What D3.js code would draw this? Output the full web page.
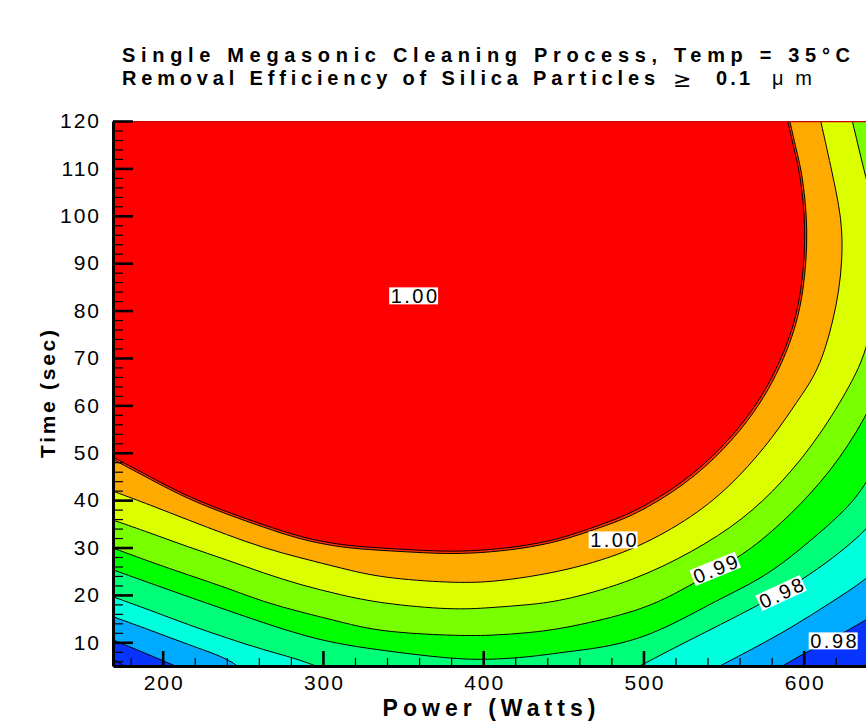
<!DOCTYPE html>
<meta charset="utf-8">
<style>
    body { margin: 0; background: #fff; }
    text { font-family: "Liberation Sans", Arial, sans-serif; fill: #000; }
    .axis text { font-size: 21px; letter-spacing: 2px; }
    .axis .domain { stroke: #000; stroke-width: 3px; }
    .major line { stroke: #000; stroke-width: 2.6px; }
    .minor line { stroke: #000; stroke-width: 1.2px; }
    .minor .domain { display: none; }
    .contour { fill: none; stroke: #000; stroke-width: 1px; }
    .clabel { font-size: 20px; letter-spacing: 2.5px; }
    .title { font-size: 20px; font-weight: bold; }
</style>
<body>
<script src="https://d3js.org/d3.v7.min.js"></script>
<script>
// axes
var powerTicks = [200, 300, 400, 500, 600];
var timeTicks = [10, 20, 30, 40, 50, 60, 70, 80, 90, 100, 110, 120];

// contour lines, [power (W), time (s)], one array per piece
var lineA0 = [[[169, 6.5], [176, 5.0], [179, 4.4]]];
var lineA = [[[169, 10.5], [192, 7.3], [212, 4.4]],
             [[584.7, 4.6], [601, 7.8], [618, 10.7], [639, 14.7], [654, 18]]];
var lineB = [[[169, 15.4], [192, 12.6], [216, 9.5], [240, 6.7], [249, 4.4]],
             [[545.4, 4.6], [567, 8.4], [592, 13.0], [616.5, 18.3], [639, 23.2], [654, 28]]];
var lineC = [[[169, 19.6], [192, 16.8], [216, 13.7], [240, 10.9], [263, 8.4], [286, 6.3], [300, 4.4]],
             [[495.5, 4.6], [523, 9.5], [548, 13.7], [573, 18.1], [586, 20.4], [610, 25.7], [626, 29.9], [639, 33.7], [654, 40]]];
var lineD = [[[169, 25.3], [192, 22.5], [216, 19.6], [240, 16.8], [263, 14.1], [286, 11.6], [311, 9.5], [348, 7.8],
              [381, 6.5], [404, 6.3], [429, 6.9], [452, 8.0], [473, 8.8], [498, 10.7], [523, 14.6], [545, 18.7],
              [567, 22.3], [586, 26.3], [610, 33.1], [626, 37.9], [639, 43.2], [654, 53]]];
var lineE = [[[169, 29.9], [192, 27.0], [216, 24.2], [240, 21.5], [263, 18.5], [286, 16.4], [311, 14.3], [336, 12.2],
              [381, 11.4], [404, 11.4], [429, 12.0], [452, 13.0], [498, 16.6], [523, 20.8], [545, 25.1], [567, 29.5],
              [592, 36.9], [617, 46.0], [639, 57.3], [654, 69]]];
var lineF = [[[169, 35.8], [192, 33.1], [216, 30.1], [240, 27.4], [263, 24.6], [286, 22.1], [311, 20.0], [336, 18.2],
              [381, 16.8], [404, 17.3], [429, 17.9], [452, 18.9], [494, 23.0], [531, 29.1], [562, 35.8], [587, 43.8],
              [610, 53.5], [630, 64.7], [639, 71.3], [646, 82], [648, 91], [646, 99], [639, 107.6], [630, 120.5]]];
var lineG = [[[169, 41.9], [192, 39.0], [216, 35.8], [240, 32.7], [263, 29.9], [286, 27.8], [311, 25.7], [336, 23.6],
              [381, 22.5], [404, 22.7], [429, 23.8], [452, 25.3], [473, 27.2], [500, 30.5], [535, 37.3], [560, 44.9],
              [581, 53.3], [596.5, 61.1], [606.6, 66.0], [613.4, 71.7], [618.4, 78.0], [622.1, 84.3], [624, 90.7],
              [624, 97.0], [622.1, 101.9], [618.4, 108.2], [610.3, 120.5]]];
var lineH2 = [[[169, 48.6], [192.2, 44.4], [215.9, 40.2], [240.2, 37.0], [262.7, 34.3], [285.8, 31.7], [310.8, 30.0],
               [335.7, 29.4], [356.3, 29.0], [380.7, 28.6], [404.4, 29.0], [429.3, 30.0], [451.8, 31.7], [473.6, 34.3],
               [494.6, 36.8], [526, 43.2], [551, 50.8], [569.8, 58.7], [581, 65.1], [589.7, 71.5], [596, 77.8],
               [599.7, 84.2], [601.6, 90.7], [602.2, 97], [601, 103.3], [598.5, 109.7], [595.4, 113.9], [591, 120.5]]];
var lineH = [[[169, 49.1], [192.2, 44.9], [215.9, 40.7], [240.2, 37.5], [262.7, 34.8], [285.8, 32.2], [310.8, 30.5],
              [335.7, 29.9], [356.3, 29.5], [380.7, 29.1], [404.4, 29.5], [429.3, 30.5], [451.8, 32.2], [473, 34.8],
              [493.6, 37.3], [524.8, 43.6], [549.8, 51.2], [568.5, 59.0], [579.7, 65.4], [588.4, 71.7], [594.7, 78.0],
              [598.4, 84.3], [600.3, 90.7], [600.9, 97.0], [599.7, 103.3], [597.2, 109.7], [594.1, 113.9], [589.7, 120.5]]];

var contourLines = [lineA0, lineA, lineB, lineC, lineD, lineE, lineF, lineG, lineH2, lineH];
var levelValues = [0.972, 0.975, 0.978, 0.981, 0.984, 0.987, 0.990, 0.993, 0.996, 0.999];
// band below the first line, then the band above each line
var bandColors = ["#1418f0", "#0834ff", "#00aaff", "#00ffdc", "#00ff78", "#00ff00", "#78ff00",
                  "#dcff00", "#ffaa00", "#ff3000", "#ff0000"];

// contour labels
var labelText = ["1.00", "1.00", "0.99", "0.98", "0.98"];
var labelPower = [356.6, 481.1, 544.8, 585.9, 618.4];
var labelTime = [83.1, 31.6, 25.5, 20.4, 10.3];
var labelAngle = [0, 0, -22, -25, 0];

var svg = d3.select("body").append("svg").attr("width", 866).attr("height", 722);

var x = d3.scaleLinear().domain([169, 645]).range([113, 875.8]);
var y = d3.scaleLinear().domain([5, 120]).range([666, 121]);
var xd = x.domain(), yd = y.domain();

svg.append("clipPath").attr("id", "plot").append("rect")
    .attr("x", x(xd[0])).attr("y", y(yd[1]))
    .attr("width", x(xd[1]) - x(xd[0])).attr("height", y(yd[0]) - y(yd[1]));

var plot = svg.append("g").attr("clip-path", "url(#plot)");

plot.append("rect")
    .attr("x", x(xd[0])).attr("y", y(yd[1]))
    .attr("width", x(xd[1]) - x(xd[0])).attr("height", y(yd[0]) - y(yd[1]))
    .attr("fill", bandColors[0]);

var curve = d3.line()
    .x(function(d) { return x(d[0]); })
    .y(function(d) { return y(d[1]); })
    .curve(d3.curveBasis);

// area on the high side of a contour line, closed outside the plot box
function regionPath(pieces) {
    var d = "";
    pieces.forEach(function(pc, i) {
        var s = curve(pc);
        d += i ? "L" + s.slice(1) : s;
    });
    var last = pieces[pieces.length - 1];
    var end = last[last.length - 1];
    var start = pieces[0][0];
    if (end[1] < yd[0]) d += "L" + x(xd[1] + 15) + "," + y(yd[0] - 5);
    d += "L" + x(xd[1] + 15) + "," + y(yd[1] + 5) +
         "L" + x(xd[0] - 5) + "," + y(yd[1] + 5) +
         "L" + x(xd[0] - 5) + "," + y(start[1]) + "Z";
    return d;
}

plot.selectAll(".band")
    .data(contourLines)
    .enter().append("path")
    .attr("class", "band")
    .attr("d", regionPath)
    .attr("fill", function(d, i) { return bandColors[i + 1]; });

contourLines.forEach(function(pieces, i) {
    plot.selectAll(".c" + i)
        .data(pieces)
        .enter().append("path")
        .attr("class", "contour c" + i)
        .attr("d", curve);
});

// dark red edge along the top of the field
plot.append("line")
    .attr("x1", x(xd[0])).attr("x2", x(xd[1]))
    .attr("y1", y(yd[1]) + 0.5).attr("y2", y(yd[1]) + 0.5)
    .attr("stroke", "#c80000").attr("stroke-width", 1.5);

// labels with white boxes
var labels = plot.selectAll(".lab")
    .data(labelText)
    .enter().append("g")
    .attr("class", "lab")
    .attr("transform", function(d, i) {
        return "translate(" + x(labelPower[i]) + "," + y(labelTime[i]) + ") rotate(" + labelAngle[i] + ")";
    });

labels.each(function(d) {
    var g = d3.select(this);
    var t = g.append("text")
        .attr("class", "clabel")
        .attr("text-anchor", "middle")
        .attr("y", 7.2)
        .attr("dx", 1.5)
        .text(d);
    var b = t.node().getBBox();
    g.insert("rect", "text")
        .attr("x", b.x - 1.5).attr("y", -8.5)
        .attr("width", b.width).attr("height", 17)
        .attr("fill", "#fff");
});

// axes
var yMinor = d3.range(6, 120, 2).filter(function(v) { return v % 10; });
var xMinor = d3.range(180, 641, 20).filter(function(v) { return v % 100; });

svg.append("g").attr("class", "axis minor")
    .attr("transform", "translate(" + x(xd[0]) + ",0)")
    .call(d3.axisLeft(y).tickValues(yMinor).tickSize(-10).tickFormat(""));

svg.append("g").attr("class", "axis minor")
    .attr("transform", "translate(0," + y(yd[0]) + ")")
    .call(d3.axisBottom(x).tickValues(xMinor).tickSize(-8).tickFormat(""));

svg.append("g").attr("class", "axis major")
    .attr("transform", "translate(" + x(xd[0]) + ",0)")
    .call(d3.axisLeft(y).tickValues(timeTicks).tickSize(-20).tickSizeOuter(0).tickPadding(12));

svg.append("g").attr("class", "axis major")
    .attr("transform", "translate(0," + y(yd[0]) + ")")
    .call(d3.axisBottom(x).tickValues(powerTicks).tickSize(-15).tickSizeOuter(0).tickPadding(9))
    .selectAll("text").attr("dx", 1);

// titles
svg.append("text")
    .attr("class", "title")
    .attr("x", 122).attr("y", 62)
    .attr("textLength", 728).attr("lengthAdjust", "spacing")
    .text("Single Megasonic Cleaning Process, Temp = 35°C");

svg.append("text")
    .attr("class", "title")
    .attr("x", 122).attr("y", 85)
    .attr("textLength", 533).attr("lengthAdjust", "spacing")
    .text("Removal Efficiency of Silica Particles");

svg.append("text")
    .attr("x", 673).attr("y", 87)
    .style("font-size", "22px")
    .style("font-family", "DejaVu Sans")
    .text("≥");

svg.append("text")
    .attr("class", "title")
    .attr("x", 716).attr("y", 85)
    .attr("textLength", 34).attr("lengthAdjust", "spacing")
    .text("0.1");

svg.append("text")
    .attr("x", 772).attr("y", 85)
    .attr("textLength", 40).attr("lengthAdjust", "spacing")
    .style("font-size", "20px")
    .text("μm");

svg.append("text")
    .attr("x", 489).attr("y", 716)
    .attr("text-anchor", "middle")
    .attr("textLength", 213).attr("lengthAdjust", "spacing")
    .style("font-size", "23px").style("font-weight", "bold")
    .text("Power (Watts)");

svg.append("text")
    .attr("transform", "translate(55,394) rotate(-90)")
    .attr("text-anchor", "middle")
    .attr("textLength", 128).attr("lengthAdjust", "spacing")
    .style("font-size", "21px").style("font-weight", "bold")
    .text("Time (sec)");
</script>
</body>
